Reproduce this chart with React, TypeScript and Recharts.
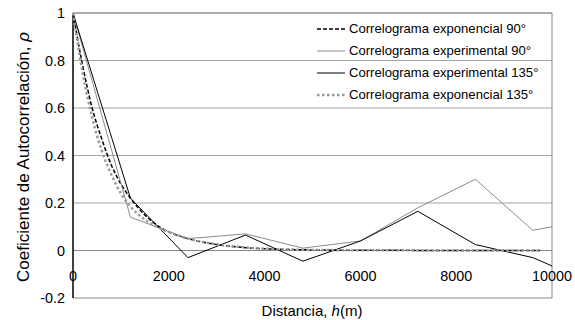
import React from 'react'
import { Line, LineChart, ReferenceLine, XAxis, YAxis } from 'recharts'

// distancias (m) y valores
const hExp = [0, 200, 400, 600, 800, 1000, 1200, 1500, 1800, 2100, 2400, 3000, 3600, 4800, 6000, 9750]
const exp90 = [1, 0.78, 0.6, 0.47, 0.36, 0.28, 0.22, 0.15, 0.1, 0.07, 0.05, 0.025, 0.012, 0.003, 0.001, 0]
const exp135 = [1, 0.75, 0.56, 0.42, 0.32, 0.24, 0.185, 0.13, 0.095, 0.07, 0.05, 0.026, 0.013, 0.003, 0.001, 0]

const hExpt = [0, 1200, 2400, 3600, 4800, 6000, 7200, 8400, 9600, 10000]
const expt90 = [1, 0.14, 0.05, 0.07, 0.01, 0.04, 0.18, 0.3, 0.085, 0.1]
const expt135 = [1, 0.22, -0.03, 0.065, -0.045, 0.04, 0.165, 0.025, -0.03, -0.065]

const xTicks = [0, 2000, 4000, 6000, 8000, 10000]
const yTicks = [-0.2, 0, 0.2, 0.4, 0.6, 0.8, 1]
const gridValues = [0.2, 0.4, 0.6, 0.8]

const FONT = '"Liberation Sans", Arial, sans-serif'

const toRows = (xs: number[], ys: number[]) => xs.map((h, i) => ({ h, v: ys[i] }))

const series = [
  { name: 'Correlograma exponencial 90°', data: toRows(hExp, exp90), color: '#000000', width: 1.5, dash: '4 2', curve: 'monotone' as const },
  { name: 'Correlograma experimental 90°', data: toRows(hExpt, expt90), color: '#8c8c8c', width: 1, dash: undefined, curve: 'linear' as const },
  { name: 'Correlograma experimental 135°', data: toRows(hExpt, expt135), color: '#000000', width: 1, dash: undefined, curve: 'linear' as const },
  { name: 'Correlograma exponencial 135°', data: toRows(hExp, exp135), color: '#9a9a9a', width: 2.5, dash: '2.5 2.5', curve: 'monotone' as const },
]

function XTick({ x, y, payload }: any) {
  return (
    <text x={x} y={y - 17} textAnchor="middle" fontFamily={FONT} fontSize={14.4} fill="#000">
      {payload.value}
    </text>
  )
}

function LegendBox() {
  return (
    <div style={{ position: 'absolute', left: 317, top: 18, fontFamily: FONT, fontSize: 13.1, color: '#000' }}>
      {series.map((s) => (
        <div key={s.name} style={{ position: 'relative', height: 22, lineHeight: '22px', whiteSpace: 'nowrap' }}>
          <svg width={30} height={22} style={{ position: 'absolute', left: 0, top: 0 }}>
            <line x1={0} y1={11} x2={28} y2={11} stroke={s.color} strokeWidth={s.width} strokeDasharray={s.dash} />
          </svg>
          <span style={{ position: 'absolute', left: 32, top: 0 }}>{s.name}</span>
        </div>
      ))}
    </div>
  )
}

export default function App() {
  return (
    <div style={{ position: 'absolute', left: 0, top: 0, width: 575, height: 320, background: '#fff' }}>
      <LineChart width={575} height={320} margin={{ top: 13, right: 23, left: 0, bottom: 0 }}>
        <XAxis
          dataKey="h"
          type="number"
          domain={[0, 10000]}
          ticks={xTicks}
          axisLine={false}
          tickLine={false}
          tickSize={0}
          tickMargin={0}
          height={22}
          tick={<XTick />}
          allowDuplicatedCategory={false}
        />
        <YAxis
          type="number"
          domain={[-0.2, 1]}
          ticks={yTicks}
          width={73}
          axisLine={false}
          tickLine={false}
          tickSize={0}
          tickMargin={8}
          tick={{ fontFamily: FONT, fontSize: 14.4, fill: '#000' }}
        />
        {gridValues.map((g) => (
          <ReferenceLine key={g} y={g} stroke="#a6a6a6" strokeWidth={1} />
        ))}
        <ReferenceLine y={0} stroke="#868686" strokeWidth={1} />
        <ReferenceLine y={-0.2} stroke="#868686" strokeWidth={1} />
        <ReferenceLine y={1} stroke="#595959" strokeWidth={1} />
        <ReferenceLine x={10000} stroke="#868686" strokeWidth={1} />
        <ReferenceLine x={0} stroke="#000" strokeWidth={1.5} />
        {series.map((s) => (
          <Line
            key={s.name}
            data={s.data}
            dataKey="v"
            name={s.name}
            type={s.curve}
            stroke={s.color}
            strokeWidth={s.width}
            strokeDasharray={s.dash}
            dot={false}
            activeDot={false}
            isAnimationActive={false}
          />
        ))}
      </LineChart>
      <LegendBox />
      <div
        style={{
          position: 'absolute',
          left: 212,
          width: 200,
          top: 302,
          textAlign: 'center',
          fontFamily: FONT,
          fontSize: 15,
          lineHeight: '18px',
        }}
      >
        Distancia, <i>h</i>(m)
      </div>
      <div
        style={{
          position: 'absolute',
          left: 24 - 150,
          top: 157 - 10,
          width: 300,
          height: 20,
          lineHeight: '20px',
          textAlign: 'center',
          transform: 'rotate(-90deg)',
          fontFamily: FONT,
          fontSize: 17,
          whiteSpace: 'nowrap',
        }}
      >
        Coeficiente de Autocorrelación, <i>ρ</i>
      </div>
    </div>
  )
}
